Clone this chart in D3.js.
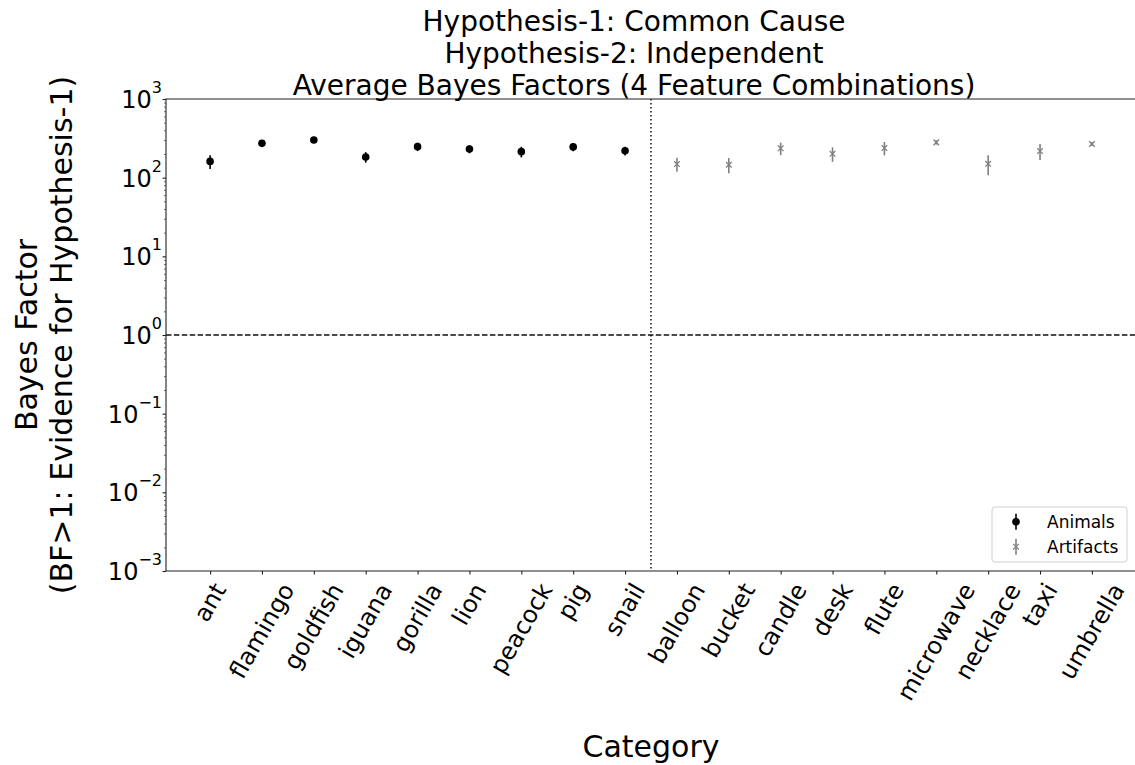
<!DOCTYPE html>
<html>
<head>
<meta charset="utf-8">
<script src="https://cdn.jsdelivr.net/npm/d3@7"></script>
<style>
  body { margin: 0; background: #fff; }
  svg { display: block; font-family: "DejaVu Sans", sans-serif; }
</style>
</head>
<body>
<div id="chart"></div>
<script>
// categories on the x axis
var animals = ["ant", "flamingo", "goldfish", "iguana", "gorilla", "lion", "peacock", "pig", "snail"];
var artifacts = ["balloon", "bucket", "candle", "desk", "flute", "microwave", "necklace", "taxi", "umbrella"];

// average Bayes factors and their errors
var animalMeans = [161, 273, 301, 183, 248, 231, 214, 246, 220];
var animalErrors = [32, 12, 10, 28, 30, 27, 33, 30, 28];
var artifactMeans = [149, 146, 236, 201, 238, 281, 150, 218, 268];
var artifactErrors = [30, 32, 43, 42, 46, 18, 43, 50, 16];

var yTicks = [1e-3, 1e-2, 1e-1, 1, 10, 100, 1000];
var titleLines = ["Hypothesis-1: Common Cause", "Hypothesis-2: Independent", "Average Bayes Factors (4 Feature Combinations)"];

var width = 1135, height = 765;
var margin = {left: 166, top: 99, right: 1136, bottom: 571};

var svg = d3.select("#chart").append("svg")
	.attr("width", width)
	.attr("height", height);

svg.append("rect").attr("width", width).attr("height", height).attr("fill", "#fff");

var categories = animals.concat(artifacts);

var x = d3.scalePoint()
	.domain(categories)
	.range([margin.left, margin.right])
	.padding(0.85);

var y = d3.scaleLog()
	.domain([1e-3, 1e3])
	.range([margin.bottom, margin.top]);

// reference lines
svg.append("line")
	.attr("x1", margin.left).attr("x2", margin.right)
	.attr("y1", y(1)).attr("y2", y(1))
	.attr("stroke", "#111").attr("stroke-width", 1.5)
	.attr("stroke-dasharray", "5.5,2.4");

var divX = (x("snail") + x("balloon")) / 2;
svg.append("line")
	.attr("x1", divX).attr("x2", divX)
	.attr("y1", margin.top).attr("y2", margin.bottom)
	.attr("stroke", "#111").attr("stroke-width", 1.5)
	.attr("stroke-dasharray", "1.5,2.5");

// error bars + markers
function drawSeries(names, means, errs, color, shape) {
	var g = svg.append("g");
	names.forEach(function(n, i) {
		g.append("line")
			.attr("x1", x(n)).attr("x2", x(n))
			.attr("y1", y(means[i] - errs[i])).attr("y2", y(means[i] + errs[i]))
			.attr("stroke", color).attr("stroke-width", 1.6);
		drawMarker(g, x(n), y(means[i]), color, shape);
	});
}

function drawMarker(g, cx, cy, color, shape) {
	if(shape == "dot") {
		g.append("circle").attr("cx", cx).attr("cy", cy).attr("r", 3.8).attr("fill", color);
	} else {
		var s = 2.8;
		g.append("path")
			.attr("d", "M" + (cx - s) + "," + (cy - s) + "L" + (cx + s) + "," + (cy + s) +
				"M" + (cx - s) + "," + (cy + s) + "L" + (cx + s) + "," + (cy - s))
			.attr("stroke", color).attr("stroke-width", 1.3).attr("fill", "none");
	}
}

drawSeries(animals, animalMeans, animalErrors, "#000", "dot");
drawSeries(artifacts, artifactMeans, artifactErrors, "#808080", "x");

// spines
svg.append("path")
	.attr("d", "M" + margin.right + "," + margin.top + "H" + margin.left + "V" + margin.bottom + "H" + margin.right)
	.attr("fill", "none").attr("stroke", "#222").attr("stroke-width", 1.1);

// y axis: major ticks
var yAxis = svg.append("g")
	.attr("transform", "translate(" + margin.left + ",0)")
	.call(d3.axisLeft(y).tickValues(yTicks).tickSize(3.5).tickFormat(""));
yAxis.select(".domain").remove();
yAxis.selectAll("line").attr("stroke", "#222").attr("stroke-width", 1.1);

// minor ticks
var minor = [];
for(var e = -3; e < 3; e++) {
	for(var m = 2; m < 10; m++) minor.push(m * Math.pow(10, e));
}
var yMinor = svg.append("g")
	.attr("transform", "translate(" + margin.left + ",0)")
	.call(d3.axisLeft(y).tickValues(minor).tickSize(2).tickFormat(""));
yMinor.select(".domain").remove();
yMinor.selectAll("line").attr("stroke", "#444").attr("stroke-width", 0.8);

// y tick labels as 10^n
yTicks.forEach(function(t) {
	var p = Math.round(Math.log10(t));
	var txt = svg.append("text")
		.attr("x", 162).attr("y", y(t) + 9)
		.attr("text-anchor", "end")
		.attr("font-size", 24).attr("fill", "#000");
	txt.append("tspan").text("10");
	txt.append("tspan").attr("dy", -15).attr("font-size", 16).text(p < 0 ? "\u2212" + (-p) : p);
});

// x axis
var xAxis = svg.append("g")
	.attr("transform", "translate(0," + margin.bottom + ")")
	.call(d3.axisBottom(x).tickSize(3.5).tickFormat(""));
xAxis.select(".domain").remove();
xAxis.selectAll("line").attr("stroke", "#222").attr("stroke-width", 1.1);

var fs = 24;
categories.forEach(function(c) {
	var t = svg.append("text")
		.attr("font-size", fs)
		.attr("text-anchor", "middle")
		.attr("dominant-baseline", "central")
		.text(c);
	var L = t.node().getComputedTextLength();
	var h = fs * 1.16;
	var bh = L * Math.sin(Math.PI / 3) + h * Math.cos(Math.PI / 3);
	var cy = margin.bottom + 3.5 + 4 + bh / 2;
	t.attr("transform", "translate(" + x(c) + "," + cy + ") rotate(-60)");
});

// axis labels
svg.append("text")
	.attr("x", (margin.left + margin.right) / 2).attr("y", 757)
	.attr("text-anchor", "middle").attr("font-size", 30)
	.text("Category");

var yl = svg.append("text")
	.attr("transform", "translate(0," + ((margin.top + margin.bottom) / 2) + ") rotate(-90)")
	.attr("text-anchor", "middle").attr("font-size", 30);
yl.append("tspan").attr("x", 0).attr("y", 37).text("Bayes Factor");
yl.append("tspan").attr("x", 0).attr("y", 72).text("(BF>1: Evidence for Hypothesis-1)");

// title
titleLines.forEach(function(line, i) {
	svg.append("text")
		.attr("x", 634).attr("y", 31 + i * 32)
		.attr("text-anchor", "middle").attr("font-size", 28)
		.text(line);
});

// legend
var lg = svg.append("g");
lg.append("rect")
	.attr("x", 992).attr("y", 507).attr("width", 135).attr("height", 55).attr("rx", 3)
	.attr("fill", "#fff").attr("fill-opacity", 0.8)
	.attr("stroke", "#d0d0d0").attr("stroke-width", 1);

var legendItems = [
	{label: "Animals", color: "#000", shape: "dot"},
	{label: "Artifacts", color: "#808080", shape: "x"}
];
legendItems.forEach(function(d, i) {
	var cy = 521.7 + i * 25;
	lg.append("line")
		.attr("x1", 1016).attr("x2", 1016)
		.attr("y1", cy - 8).attr("y2", cy + 8)
		.attr("stroke", d.color).attr("stroke-width", 1.6);
	drawMarker(lg, 1016, cy, d.color, d.shape);
	lg.append("text")
		.attr("x", 1047).attr("y", cy + 6)
		.attr("font-size", 17)
		.text(d.label);
});
</script>
</body>
</html>
